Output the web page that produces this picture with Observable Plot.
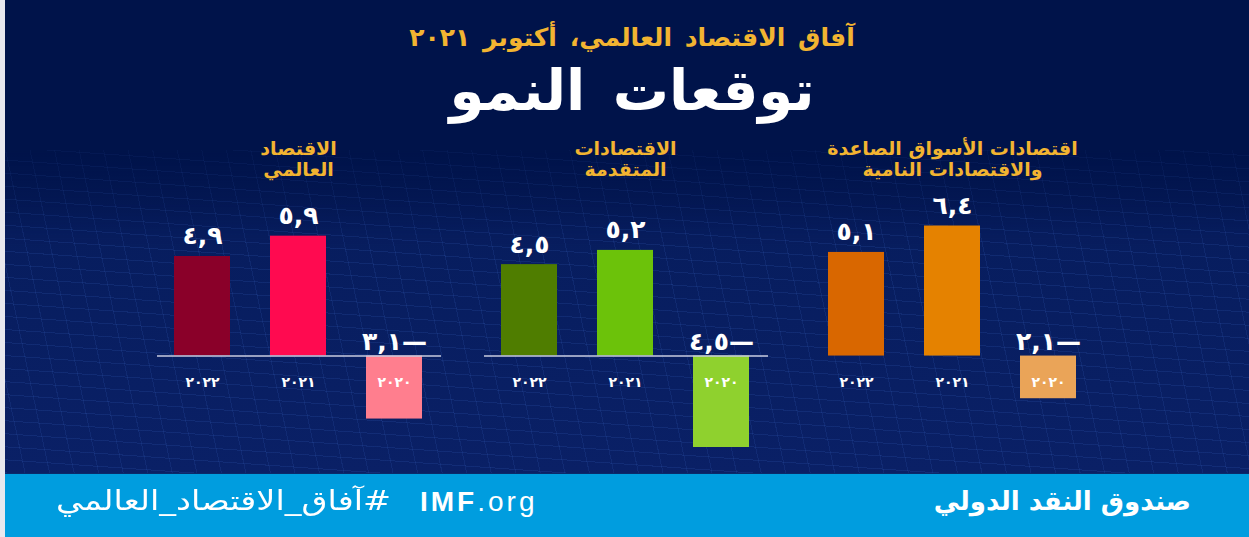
<!DOCTYPE html>
<html lang="ar">
<head>
<meta charset="utf-8">
<script src="https://cdn.jsdelivr.net/npm/d3@7"></script>
<script src="https://cdn.jsdelivr.net/npm/@observablehq/plot@0.6"></script>
<style>
  html, body { margin: 0; padding: 0; width: 1249px; height: 537px; overflow: hidden; background: #00134a; }
  #wrap { position: relative; width: 1249px; height: 537px; background: #00134a; font-family: "DejaVu Sans", sans-serif; overflow: hidden; }
  #mesh { position: absolute; left: 0; top: 150px; width: 1249px; height: 323px;
    background:
      repeating-linear-gradient(4deg, rgba(70,120,220,0.14) 0 1px, transparent 1px 13px),
      repeating-linear-gradient(78deg, rgba(70,120,220,0.12) 0 1px, transparent 1px 24px),
      linear-gradient(180deg, #00134a 0%, #071d5e 25%, #0a2066 100%);
    -webkit-mask-image: linear-gradient(180deg, rgba(0,0,0,0.4) 0%, #000 30%, #000 100%);
  }
  #edge { position: absolute; left: 0; top: 0; width: 5px; height: 537px; background: #e8e8ee; }
  .sub { position: absolute; left: 0; width: 1264px; top: 23px; text-align: center; color: #f2b431; font-size: 25px; font-weight: bold; direction: rtl; word-spacing: 4px; }
  .title { position: absolute; left: 0; width: 1264px; top: 58px; text-align: center; color: #ffffff; font-size: 56px; font-weight: bold; direction: rtl; word-spacing: 8px; }
  #chart { position: absolute; left: 0; top: 130px; }
  #footer { position: absolute; left: 0; top: 473px; width: 1249px; height: 64px; background: #009ddf; border-top: 1px solid #0a2a6a; }
  .ft { position: absolute; color: #ffffff; white-space: nowrap; }
  #tag { left: 56px; top: 11px; direction: rtl; font-size: 27px; transform-origin: left center; }
  #imf { left: 420px; top: 12px; font-family: "Liberation Sans", Arial, sans-serif; font-size: 28px; letter-spacing: 3px; }
  #imf b { font-weight: bold; }
  #org { right: 58px; top: 12px; direction: rtl; font-weight: bold; font-size: 26px; }
  g[aria-label="year-labels"] text { letter-spacing: 4px; }
  g[aria-label="value-labels"] text, g[aria-label="neg-labels"] text { unicode-bidi: bidi-override; direction: ltr; }
</style>
</head>
<body>
<div id="wrap">
  <div id="mesh"></div>
  <div class="sub">آفاق الاقتصاد العالمي، أكتوبر ٢٠٢١</div>
  <div class="title">توقعات النمو</div>
  <div id="chart"></div>
  <div id="footer">
    <div class="ft" id="tag">#آفاق_الاقتصاد_العالمي</div>
    <div class="ft" id="imf"><b>IMF</b>.org</div>
    <div class="ft" id="org">صندوق النقد الدولي</div>
  </div>
  <div id="edge"></div>
</div>
<script>
// ---- data ----
const panels = ["الاقتصاد\nالعالمي", "الاقتصادات\nالمتقدمة", "اقتصادات الأسواق الصاعدة\nوالاقتصادات النامية"];
const years = ["2022", "2021", "2020"];
const worldValues = [4.9, 5.9, -3.1];
const advancedValues = [4.5, 5.2, -4.5];
const emergingValues = [5.1, 6.4, -2.1];
const worldColors = ["#8a0029", "#ff0a50", "#ff7e8e"];
const advancedColors = ["#4f7d00", "#6cc20a", "#8fd12e"];
const emergingColors = ["#d96700", "#e58200", "#eaa458"];

const seriesValues = [worldValues, advancedValues, emergingValues];
const seriesColors = [worldColors, advancedColors, emergingColors];

const rows = panels.flatMap((p, i) => years.map((y, j) => ({
  panel: p, year: y, value: seriesValues[i][j], color: seriesColors[i][j]
})));

const arDigits = "٠١٢٣٤٥٦٧٨٩";
const toAr = s => String(s).replace(/\d/g, d => arDigits[+d]);
const fmtValue = v => toAr(Math.abs(v).toFixed(1).replace(".", ",")) + (v < 0 ? "—" : "");

const baselinePanels = panels.slice(0, 2);

const chart = Plot.plot({
  width: 1249,
  height: 340,
  marginLeft: 164,
  marginRight: 162,
  marginTop: 63,
  marginBottom: 23,
  style: { background: "transparent", color: "#ffffff", fontFamily: "DejaVu Sans, sans-serif", overflow: "visible" },
  fx: { domain: panels, axis: null, paddingInner: 0.18, paddingOuter: 0 },
  x: { domain: years, axis: null, paddingInner: 0.42, paddingOuter: 0.1 },
  y: { domain: [-4.5, 8], axis: null },
  marks: [
    Plot.barY(rows, { fx: "panel", x: "year", y: "value", fill: "color" }),
    Plot.ruleY(baselinePanels, { fx: d => d, y: 0, stroke: "#c9cde0", strokeWidth: 1.5, insetLeft: -7, insetRight: -9 }),
    Plot.text(rows, {
      filter: d => d.value > 0,
      fx: "panel", x: "year", y: "value",
      text: d => fmtValue(d.value),
      lineAnchor: "bottom", dy: -12, fill: "#ffffff", fontSize: 25, fontWeight: "bold", ariaLabel: "value-labels"
    }),
    Plot.text(rows, {
      filter: d => d.value < 0,
      fx: "panel", x: "year", y: 0,
      text: d => fmtValue(d.value),
      lineAnchor: "bottom", dy: -6, fill: "#ffffff", fontSize: 25, fontWeight: "bold", ariaLabel: "neg-labels"
    }),
    Plot.text(rows, {
      fx: "panel", x: "year", y: 0, text: d => toAr(d.year),
      dy: 26, fill: "#ffffff", fontSize: 14, fontWeight: "bold", ariaLabel: "year-labels"
    }),
    Plot.text(panels, {
      fx: d => d, text: d => d, frameAnchor: "top", lineAnchor: "bottom", dy: -18,
      lineHeight: 1.1, fill: "#f2b431", fontSize: 19, fontWeight: "bold"
    })
  ]
});
document.getElementById("chart").appendChild(chart);

// stretch hashtag to the width it takes in the original artwork
const tag = document.getElementById("tag");
const tw = tag.getBoundingClientRect().width;
if (tw > 0) tag.style.transform = `scaleX(${335 / tw})`;
</script>
</body>
</html>
